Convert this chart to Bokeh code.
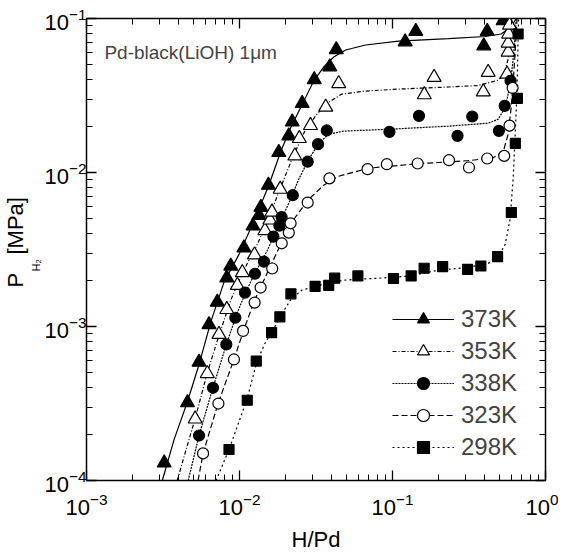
import math
from bokeh.plotting import figure
from bokeh.models import (Legend, LegendItem, Label, LogAxis, FixedTicker,
                          LogTickFormatter, CustomJSTickFormatter, Title)
from bokeh.embed import file_html
from bokeh.resources import INLINE

# ---------------- data ----------------
X_MAJOR = [1e-3, 1e-2, 1e-1, 1.0]
Y_MAJOR = [1e-4, 1e-3, 1e-2, 1e-1]

LABELS = ["373K", "353K", "338K", "323K", "298K"]

H_373 = [0.00322, 0.00457, 0.00544, 0.00632, 0.00716, 0.00826, 0.00877, 0.01069,
         0.01225, 0.01340, 0.01380, 0.01545, 0.01806, 0.0210, 0.0221, 0.0257,
         0.0308, 0.0389, 0.0429, 0.121, 0.142, 0.395, 0.416, 0.528]
P_373 = [1.30e-4, 3.20e-4, 5.87e-4, 1.03e-3, 1.44e-3, 2.07e-3, 2.47e-3, 3.24e-3,
         4.50e-3, 5.27e-3, 5.94e-3, 8.27e-3, 0.01349, 0.01730, 0.0213, 0.0281,
         0.0401, 0.0486, 0.0628, 0.0706, 0.0826, 0.0665, 0.0826, 0.0968]

H_353 = [0.00513, 0.00616, 0.00734, 0.00826, 0.00968, 0.01043, 0.01253, 0.01466,
         0.01581, 0.01630, 0.01845, 0.0230, 0.0246, 0.0291, 0.0366, 0.0445,
         0.1614, 0.187, 0.392, 0.422, 0.561, 0.570, 0.570, 0.574, 0.582]
P_353 = [2.51e-4, 4.95e-4, 8.89e-4, 1.29e-3, 1.85e-3, 2.24e-3, 2.92e-3, 4.20e-3,
         4.92e-3, 5.54e-3, 7.79e-3, 0.01282, 0.01663, 0.0202, 0.0266, 0.0378,
         0.0320, 0.0415, 0.0334, 0.0447, 0.0436, 0.0606, 0.0693, 0.0793, 0.0907]

H_338 = [0.00544, 0.00671, 0.00820, 0.00939, 0.01086, 0.01262, 0.01445, 0.01666,
         0.01822, 0.01884, 0.0223, 0.0279, 0.0326, 0.0372, 0.0955, 0.149,
         0.266, 0.332, 0.496, 0.541, 0.591]
P_338 = [1.96e-4, 4.00e-4, 7.65e-4, 1.14e-3, 1.66e-3, 2.20e-3, 2.64e-3, 3.83e-3,
         4.52e-3, 5.14e-3, 7.12e-3, 0.01175, 0.01528, 0.01875, 0.01836, 0.02333,
         0.0173, 0.0231, 0.01865, 0.0271, 0.0394]

H_323 = [0.00578, 0.00728, 0.00920, 0.01055, 0.01256, 0.01374, 0.01636, 0.01888,
         0.0210, 0.02157, 0.0279, 0.0387, 0.0687, 0.0918, 0.146, 0.234,
         0.316, 0.416, 0.537, 0.582, 0.610]
P_323 = [1.50e-4, 3.16e-4, 6.11e-4, 9.36e-4, 1.43e-3, 1.79e-3, 2.38e-3, 3.47e-3,
         4.07e-3, 4.68e-3, 6.38e-3, 9.16e-3, 0.01051, 0.01132, 0.01144, 0.01202,
         0.01078, 0.01233, 0.01282, 0.02015, 0.0354]

H_298 = [0.00854, 0.01124, 0.01287, 0.01621, 0.01836, 0.02168, 0.0312, 0.0383,
         0.0419, 0.0594, 0.1015, 0.1324, 0.161, 0.2127, 0.3095, 0.378,
         0.486, 0.598, 0.635, 0.655, 0.662]
P_298 = [1.59e-4, 3.32e-4, 5.96e-4, 9.12e-4, 1.155e-3, 1.63e-3, 1.82e-3, 1.85e-3,
         2.06e-3, 2.13e-3, 2.05e-3, 2.13e-3, 2.39e-3, 2.45e-3, 2.35e-3, 2.47e-3,
         2.84e-3, 5.50e-3, 0.01544, 0.0303, 0.0793]

# fitted curves drawn through each isotherm
FIT_373_H = [0.00313, 0.00374, 0.00455, 0.00544, 0.00651, 0.00792, 0.00993, 0.01241,
             0.01556, 0.01862, 0.02168, 0.02596, 0.03055, 0.0355, 0.0413, 0.0494,
             0.0667, 0.1094, 0.2317, 0.4036, 0.513, 0.570, 0.614, 0.643]
FIT_373_P = [1e-4, 1.85e-4, 3.21e-4, 5.67e-4, 1.08e-3, 1.94e-3, 2.94e-3, 4.82e-3,
             8.27e-3, 0.01375, 0.0197, 0.02823, 0.0393, 0.0484, 0.0562, 0.0624,
             0.0673, 0.0714, 0.0741, 0.0764, 0.0793, 0.0855, 0.0921, 0.1]

FIT_353_H = [0.00392, 0.00448, 0.00513, 0.00614, 0.00734, 0.00881, 0.01055, 0.01262,
             0.0151, 0.01837, 0.0223, 0.0267, 0.0320, 0.0383, 0.0466, 0.0667,
             0.1094, 0.2317, 0.363, 0.491, 0.537, 0.570, 0.587, 0.605]
FIT_353_P = [1e-4, 1.59e-4, 2.52e-4, 4.95e-4, 8.75e-4, 1.50e-3, 2.28e-3, 3.17e-3,
             4.68e-3, 7.79e-3, 0.01258, 0.01856, 0.0239, 0.0286, 0.0323, 0.0338,
             0.0348, 0.0359, 0.0367, 0.0398, 0.0442, 0.0545, 0.0736, 0.1]

FIT_338_H = [0.00462, 0.00544, 0.00671, 0.00817, 0.00963, 0.01119, 0.0130, 0.0151,
             0.01754, 0.0210, 0.0244, 0.0284, 0.0330, 0.0383, 0.0480, 0.0955,
             0.2317, 0.422, 0.491, 0.528, 0.561, 0.595, 0.624, 0.643]
FIT_338_P = [1e-4, 1.96e-4, 4.02e-4, 7.54e-4, 1.22e-3, 1.74e-3, 2.35e-3, 3.08e-3,
             4.28e-3, 6.32e-3, 9.05e-3, 0.0122, 0.0155, 0.01774, 0.01856, 0.0191,
             0.0200, 0.0209, 0.0222, 0.0251, 0.0300, 0.0404, 0.0634, 0.1]

FIT_323_H = [0.00536, 0.00578, 0.00724, 0.00920, 0.01069, 0.01262, 0.01556, 0.01862,
             0.02265, 0.0284, 0.0355, 0.0445, 0.0698, 0.1476, 0.313, 0.455,
             0.528, 0.570, 0.595, 0.614, 0.632, 0.652]
FIT_323_P = [1e-4, 1.50e-4, 3.16e-4, 6.11e-4, 9.57e-4, 1.50e-3, 2.35e-3, 3.42e-3,
             4.97e-3, 6.71e-3, 8.27e-3, 9.46e-3, 0.01067, 0.01141, 0.01193, 0.01248,
             0.01355, 0.01774, 0.0258, 0.0375, 0.0588, 0.1]

FIT_298_H = [0.00703, 0.00854, 0.01119, 0.0130, 0.01466, 0.01652, 0.01862, 0.02168,
             0.0255, 0.0330, 0.0480, 0.0811, 0.127, 0.1994, 0.313, 0.422,
             0.491, 0.545, 0.587, 0.614, 0.632, 0.652, 0.662, 0.667]
FIT_298_P = [1e-4, 1.59e-4, 3.36e-4, 5.93e-4, 7.77e-4, 9.43e-4, 1.18e-3, 1.50e-3,
             1.72e-3, 1.85e-3, 2.00e-3, 2.06e-3, 2.12e-3, 2.32e-3, 2.42e-3, 2.57e-3,
             2.81e-3, 3.42e-3, 4.97e-3, 9.05e-3, 0.01646, 0.0348, 0.0736, 0.1]

# ---------------- figure ----------------
FONT = "Liberation Sans"

p = figure(width=558, height=554, x_axis_type="log", y_axis_type="log",
           x_range=(1e-3, 1.0), y_range=(1e-4, 1e-1),
           output_backend="svg", toolbar_location=None,
           min_border_left=80, min_border_right=13,
           min_border_top=18, min_border_bottom=74)
p.grid.visible = False
p.outline_line_color = "black"
p.outline_line_width = 1.5
p.background_fill_color = "white"
p.border_fill_color = "white"

x_minor = [m * d for d in X_MAJOR[:-1] for m in range(2, 10)]
y_minor = [m * d for d in Y_MAJOR[:-1] for m in range(2, 10)]

blank = CustomJSTickFormatter(code="return ' ';")


def style_axis(ax, show_labels):
    ax.axis_line_color = None
    ax.major_tick_in = 10
    ax.major_tick_out = 0
    ax.minor_tick_in = 6
    ax.minor_tick_out = 0
    ax.major_tick_line_width = 1.3
    ax.minor_tick_line_width = 1.0
    ax.major_tick_line_color = "black"
    ax.minor_tick_line_color = "black"
    ax.major_label_text_font = FONT
    ax.major_label_text_color = "black"
    if show_labels:
        ax.major_label_text_font_size = "22px"
    else:
        ax.formatter = blank
        ax.major_label_text_font_size = "2px"
        ax.major_label_standoff = 0


xb = p.xaxis[0]
xb.ticker = FixedTicker(ticks=X_MAJOR, minor_ticks=x_minor)
xb.formatter = LogTickFormatter()
style_axis(xb, True)
xb.major_label_standoff = 12
xb.axis_label = "H/Pd"
xb.axis_label_text_font = FONT
xb.axis_label_text_font_size = "22px"
xb.axis_label_text_font_style = "normal"
xb.axis_label_text_color = "black"
xb.axis_label_standoff = 9

yl = p.yaxis[0]
yl.ticker = FixedTicker(ticks=Y_MAJOR, minor_ticks=y_minor)
yl.formatter = LogTickFormatter()
style_axis(yl, True)
yl.major_label_standoff = 0

xt = LogAxis(ticker=FixedTicker(ticks=X_MAJOR, minor_ticks=x_minor))
style_axis(xt, False)
p.add_layout(xt, "above")
yr = LogAxis(ticker=FixedTicker(ticks=Y_MAJOR, minor_ticks=y_minor))
style_axis(yr, False)
p.add_layout(yr, "right")

# y-axis title P_{H2} [MPa]: subscript panel next to the tick labels, main text outside it
p.add_layout(Title(text="H\u2082", text_font=FONT, text_font_size="11px",
                   text_font_style="normal", text_color="black",
                   align="left", offset=209, standoff=0), "left")
p.add_layout(Title(text="P\u00a0\u00a0\u00a0[MPa]", text_font=FONT,
                   text_font_size="22px", text_font_style="normal",
                   text_color="black", align="left", offset=193,
                   standoff=0), "left")

# ---------------- series ----------------
series = [
    (H_373, P_373, FIT_373_H, FIT_373_P, "triangle", "black", "solid"),
    (H_353, P_353, FIT_353_H, FIT_353_P, "triangle", "white", "4 2 1 2"),
    (H_338, P_338, FIT_338_H, FIT_338_P, "circle", "black", "2 1"),
    (H_323, P_323, FIT_323_H, FIT_323_P, "circle", "white", "6 3"),
    (H_298, P_298, FIT_298_H, FIT_298_P, "square", "black", "2 3"),
]
sizes = {"triangle": 14, "circle": 11, "square": 10}

items = []
for (hx, py, fx, fy, marker, fill, dash), lab in zip(series, LABELS):
    ln = p.line(fx, fy, line_color="black", line_width=1.2, line_dash=dash)
    sc = p.scatter(hx, py, marker=marker, size=sizes[marker], fill_color=fill,
                   line_color="black", line_width=1.2)
    items.append(LegendItem(label=lab, renderers=[ln, sc]))

legend = Legend(items=items, location=(306, 18), orientation="vertical",
                glyph_width=62, glyph_height=30, label_height=30, spacing=2,
                padding=0, margin=0, label_standoff=7,
                label_text_font=FONT, label_text_font_size="24px",
                border_line_color=None, background_fill_alpha=0)
p.add_layout(legend)

# annotation inside the plot
p.add_layout(Label(x=0.00131, y=0.0597, text="Pd-black(LiOH) 1\u03bcm",
                   text_font=FONT, text_font_size="19px",
                   text_baseline="middle", text_align="left"))

open("out.html", "w").write(file_html(p, INLINE))
